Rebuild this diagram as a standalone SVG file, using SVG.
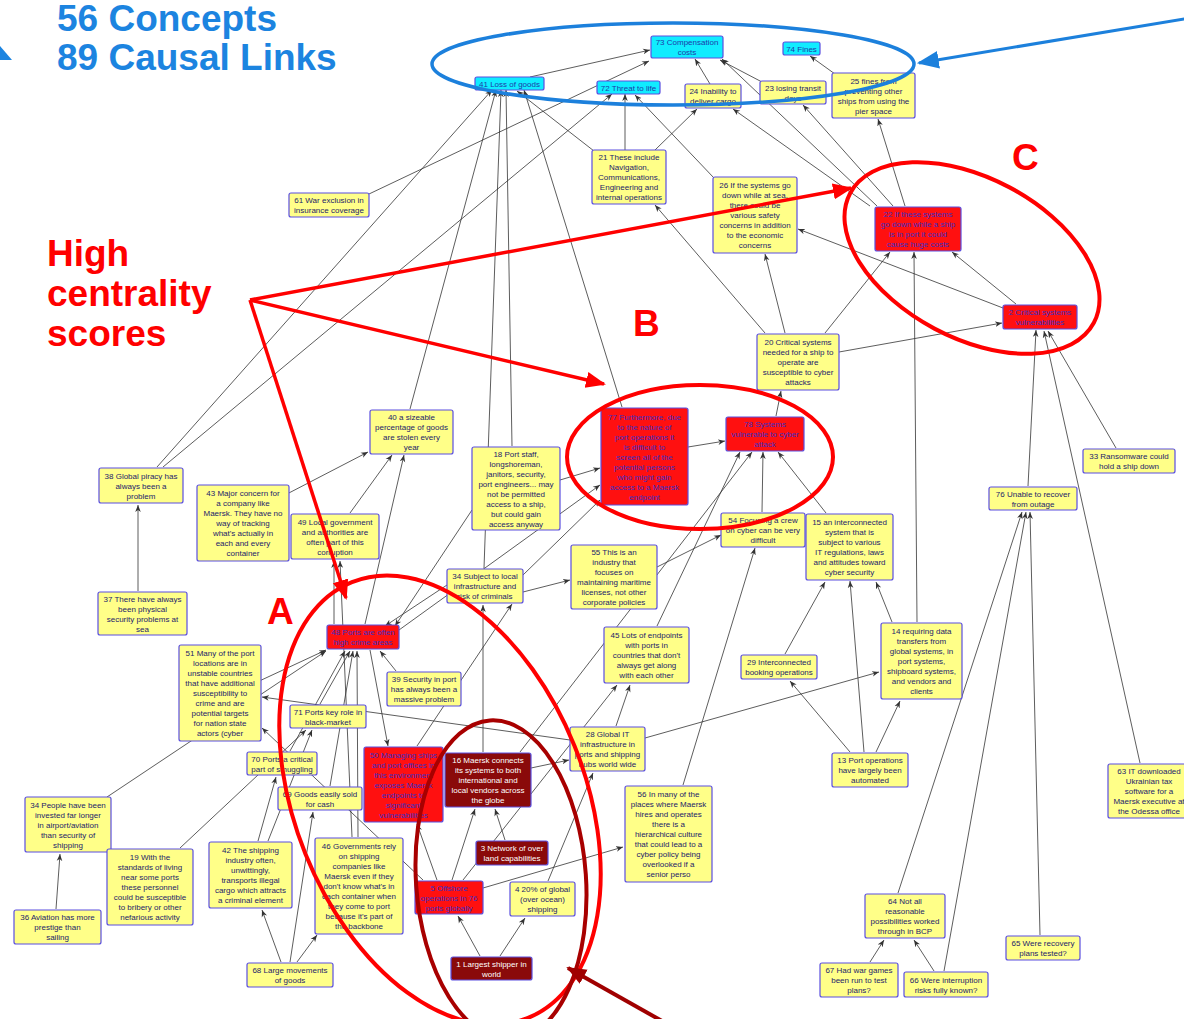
<svg xmlns="http://www.w3.org/2000/svg" width="1184" height="1019" viewBox="0 0 1184 1019">
<defs>
<marker id="ah" viewBox="0 0 10 10" refX="10" refY="5" markerWidth="7" markerHeight="7" orient="auto" markerUnits="userSpaceOnUse"><path d="M0,1 L10,5 L0,9 L3,5 z" fill="#333"/></marker>
<marker id="rah" viewBox="0 0 10 10" refX="9" refY="5" markerWidth="20" markerHeight="20" orient="auto" markerUnits="userSpaceOnUse"><path d="M0,1 L10,5 L0,9 z" fill="#ff0000"/></marker>
<marker id="dah" viewBox="0 0 10 10" refX="9" refY="5" markerWidth="20" markerHeight="20" orient="auto" markerUnits="userSpaceOnUse"><path d="M0,1 L10,5 L0,9 z" fill="#a00000"/></marker>
<marker id="bah" viewBox="0 0 10 10" refX="9" refY="5" markerWidth="22" markerHeight="22" orient="auto" markerUnits="userSpaceOnUse"><path d="M0,1 L10,5 L0,9 z" fill="#1c80dc"/></marker>
<style>
.n rect{stroke:#5a4fe0;stroke-width:1.2}
.y rect{fill:#ffff88}
.r rect{fill:#ff1010}
.d rect{fill:#8a0a0a}
.c rect{fill:#10ecff}
.n text{font-family:"Liberation Sans",Arial,sans-serif;font-size:8px;text-anchor:middle;fill:#1c1c6a}
.r text{fill:#3b2fc0}
.d text{fill:#ffffff}
.c text{fill:#1f3aa8}
#edges path{fill:none;stroke:#333;stroke-width:0.8;marker-end:url(#ah)}
.big{font-family:"Liberation Sans",Arial,sans-serif;font-weight:bold}
</style>
</defs>
<rect width="1184" height="1019" fill="#ffffff"/>
<g id="edges">
<path d="M530,77 L650,50"/>
<path d="M710,84 L695,59"/>
<path d="M762,82 L720,60"/>
<path d="M877,206 L722,59"/>
<path d="M835,74 L810,56"/>
<path d="M594,151 L517,91"/>
<path d="M625,150 L625,94"/>
<path d="M655,150 L697,109"/>
<path d="M714,178 L635,95"/>
<path d="M870,206 L733,109"/>
<path d="M893,206 L803,105"/>
<path d="M905,206 L878,119"/>
<path d="M1016,304 L952,252"/>
<path d="M1003,308 L798,229"/>
<path d="M765,333 L655,205"/>
<path d="M785,333 L765,254"/>
<path d="M825,333 L890,252"/>
<path d="M839,352 L1002,323"/>
<path d="M917,622 L914,252"/>
<path d="M776,416 L781,391"/>
<path d="M688,447 L725,441"/>
<path d="M762,512 L763,452"/>
<path d="M826,513 L778,452"/>
<path d="M657,626 L740,452"/>
<path d="M520,752 L752,452"/>
<path d="M622,407 L524,90"/>
<path d="M512,446 L506,90"/>
<path d="M484,568 L501,90"/>
<path d="M410,409 L496,90"/>
<path d="M157,467 L492,90"/>
<path d="M163,467 L612,94"/>
<path d="M369,194 L649,61"/>
<path d="M138,591 L138,505"/>
<path d="M285,495 L368,452"/>
<path d="M350,513 L392,455"/>
<path d="M365,624 L404,455"/>
<path d="M334,624 L334,561"/>
<path d="M352,837 L340,561"/>
<path d="M107,797 L326,651"/>
<path d="M255,683 L326,650"/>
<path d="M290,751 L345,651"/>
<path d="M320,704 L350,651"/>
<path d="M330,786 L353,651"/>
<path d="M358,837 L357,651"/>
<path d="M396,671 L380,651"/>
<path d="M447,585 L385,626"/>
<path d="M472,510 L395,626"/>
<path d="M370,650 L388,746"/>
<path d="M399,630 L600,485"/>
<path d="M523,575 L600,500"/>
<path d="M560,480 L600,468"/>
<path d="M570,740 L262,697"/>
<path d="M423,880 L262,728"/>
<path d="M180,848 L306,730"/>
<path d="M258,841 L276,777"/>
<path d="M268,841 L312,730"/>
<path d="M281,962 L262,910"/>
<path d="M290,962 L313,812"/>
<path d="M297,962 L317,935"/>
<path d="M437,880 L417,824"/>
<path d="M452,880 L475,809"/>
<path d="M505,840 L495,809"/>
<path d="M463,880 L617,685"/>
<path d="M480,956 L458,916"/>
<path d="M500,956 L525,918"/>
<path d="M548,881 L593,773"/>
<path d="M483,888 L623,847"/>
<path d="M531,768 L569,760"/>
<path d="M483,752 L483,605"/>
<path d="M616,726 L630,685"/>
<path d="M645,738 L879,672"/>
<path d="M850,752 L790,681"/>
<path d="M876,752 L900,701"/>
<path d="M864,752 L850,581"/>
<path d="M785,654 L825,582"/>
<path d="M892,622 L876,582"/>
<path d="M683,785 L755,548"/>
<path d="M657,567 L721,535"/>
<path d="M523,592 L570,580"/>
<path d="M417,746 L512,604"/>
<path d="M1028,486 L1036,330"/>
<path d="M1140,763 L1044,331"/>
<path d="M1116,448 L1048,331"/>
<path d="M898,893 L1022,512"/>
<path d="M944,971 L1026,512"/>
<path d="M1040,935 L1030,512"/>
<path d="M870,962 L884,940"/>
<path d="M934,971 L914,940"/>
<path d="M56,909 L60,854"/>
</g>
<g id="n73" class="n c"><rect x="651" y="36" width="72" height="22" rx="2"/><text x="687" y="45">73 Compensation<tspan x="687" dy="10">costs</tspan></text></g>
<g id="n74" class="n c"><rect x="783" y="42" width="37" height="13" rx="2"/><text x="801.5" y="51.5">74 Fines</text></g>
<g id="n41" class="n c"><rect x="475" y="77" width="69" height="13" rx="2"/><text x="509.5" y="86.5">41 Loss of goods</text></g>
<g id="n72" class="n c"><rect x="597" y="81" width="63" height="13" rx="2"/><text x="628.5" y="90.5">72 Threat to life</text></g>
<g id="n24" class="n y"><rect x="685" y="84" width="56" height="24" rx="2"/><text x="713" y="94">24 Inability to<tspan x="713" dy="10">deliver cargo</tspan></text></g>
<g id="n23" class="n y"><rect x="760" y="81" width="66" height="23" rx="2"/><text x="793" y="90.5">23 losing transit<tspan x="793" dy="10">days</tspan></text></g>
<g id="n25" class="n y"><rect x="832" y="73" width="83" height="45" rx="2"/><text x="873.5" y="83.5">25 fines from<tspan x="873.5" dy="10">preventing other</tspan><tspan x="873.5" dy="10">ships from using the</tspan><tspan x="873.5" dy="10">pier space</tspan></text></g>
<g id="n21" class="n y"><rect x="592" y="150" width="74" height="54" rx="2"/><text x="629" y="160">21 These include<tspan x="629" dy="10">Navigation,</tspan><tspan x="629" dy="10">Communications,</tspan><tspan x="629" dy="10">Engineering and</tspan><tspan x="629" dy="10">internal operations</tspan></text></g>
<g id="n26" class="n y"><rect x="713" y="177" width="84" height="76" rx="2"/><text x="755" y="188">26 If the systems go<tspan x="755" dy="10">down while at sea,</tspan><tspan x="755" dy="10">there could be</tspan><tspan x="755" dy="10">various safety</tspan><tspan x="755" dy="10">concerns in addition</tspan><tspan x="755" dy="10">to the economic</tspan><tspan x="755" dy="10">concerns</tspan></text></g>
<g id="n61" class="n y"><rect x="289" y="193" width="80" height="24" rx="2"/><text x="329" y="203">61 War exclusion in<tspan x="329" dy="10">insurance coverage</tspan></text></g>
<g id="n22" class="n r"><rect x="875" y="207" width="86" height="44" rx="2"/><text x="918" y="217">22 If these systems<tspan x="918" dy="10">go down while a ship</tspan><tspan x="918" dy="10">is in port it could</tspan><tspan x="918" dy="10">cause huge costs</tspan></text></g>
<g id="n2" class="n r"><rect x="1003" y="305" width="74" height="24" rx="2"/><text x="1040" y="315">2 Critical systems<tspan x="1040" dy="10">vulnerabilities</tspan></text></g>
<g id="n20" class="n y"><rect x="757" y="334" width="82" height="56" rx="2"/><text x="798" y="345">20 Critical systems<tspan x="798" dy="10">needed for a ship to</tspan><tspan x="798" dy="10">operate are</tspan><tspan x="798" dy="10">susceptible to cyber</tspan><tspan x="798" dy="10">attacks</tspan></text></g>
<g id="n77" class="n r"><rect x="601" y="408" width="87" height="97" rx="2"/><text x="644.5" y="419.5">77 Furthermore, due<tspan x="644.5" dy="10">to the nature of</tspan><tspan x="644.5" dy="10">port operations it</tspan><tspan x="644.5" dy="10">is difficult to</tspan><tspan x="644.5" dy="10">screen all of the</tspan><tspan x="644.5" dy="10">potential persons</tspan><tspan x="644.5" dy="10">who might gain</tspan><tspan x="644.5" dy="10">access to a Maersk</tspan><tspan x="644.5" dy="10">endpoint</tspan></text></g>
<g id="n78" class="n r"><rect x="726" y="417" width="78" height="34" rx="2"/><text x="765" y="427">78 Systems<tspan x="765" dy="10">vulnerable to cyber</tspan><tspan x="765" dy="10">attack</tspan></text></g>
<g id="n40" class="n y"><rect x="370" y="410" width="83" height="44" rx="2"/><text x="411.5" y="420">40 a sizeable<tspan x="411.5" dy="10">percentage of goods</tspan><tspan x="411.5" dy="10">are stolen every</tspan><tspan x="411.5" dy="10">year</tspan></text></g>
<g id="n18" class="n y"><rect x="472" y="447" width="88" height="83" rx="2"/><text x="516" y="456.5">18 Port staff,<tspan x="516" dy="10">longshoreman,</tspan><tspan x="516" dy="10">janitors, security,</tspan><tspan x="516" dy="10">port engineers... may</tspan><tspan x="516" dy="10">not be permitted</tspan><tspan x="516" dy="10">access to a ship,</tspan><tspan x="516" dy="10">but could gain</tspan><tspan x="516" dy="10">access anyway</tspan></text></g>
<g id="n38" class="n y"><rect x="99" y="468" width="84" height="35" rx="2"/><text x="141" y="478.5">38 Global piracy has<tspan x="141" dy="10">always been a</tspan><tspan x="141" dy="10">problem</tspan></text></g>
<g id="n43" class="n y"><rect x="197" y="485" width="92" height="76" rx="2"/><text x="243" y="496">43 Major concern for<tspan x="243" dy="10">a company like</tspan><tspan x="243" dy="10">Maersk. They have no</tspan><tspan x="243" dy="10">way of tracking</tspan><tspan x="243" dy="10">what's actually in</tspan><tspan x="243" dy="10">each and every</tspan><tspan x="243" dy="10">container</tspan></text></g>
<g id="n49" class="n y"><rect x="291" y="514" width="88" height="45" rx="2"/><text x="335" y="524.5">49 Local government<tspan x="335" dy="10">and authorities are</tspan><tspan x="335" dy="10">often part of this</tspan><tspan x="335" dy="10">corruption</tspan></text></g>
<g id="n54" class="n y"><rect x="721" y="513" width="84" height="34" rx="2"/><text x="763" y="523">54 Focusing a crew<tspan x="763" dy="10">on cyber can be very</tspan><tspan x="763" dy="10">difficult</tspan></text></g>
<g id="n15" class="n y"><rect x="806" y="514" width="87" height="66" rx="2"/><text x="849.5" y="525">15 an interconnected<tspan x="849.5" dy="10">system that is</tspan><tspan x="849.5" dy="10">subject to various</tspan><tspan x="849.5" dy="10">IT regulations, laws</tspan><tspan x="849.5" dy="10">and attitudes toward</tspan><tspan x="849.5" dy="10">cyber security</tspan></text></g>
<g id="n55" class="n y"><rect x="571" y="545" width="86" height="64" rx="2"/><text x="614" y="555">55 This is an<tspan x="614" dy="10">industry that</tspan><tspan x="614" dy="10">focuses on</tspan><tspan x="614" dy="10">maintaining maritime</tspan><tspan x="614" dy="10">licenses, not other</tspan><tspan x="614" dy="10">corporate policies</tspan></text></g>
<g id="n34s" class="n y"><rect x="447" y="569" width="76" height="34" rx="2"/><text x="485" y="579">34 Subject to local<tspan x="485" dy="10">infrastructure and</tspan><tspan x="485" dy="10">risk of criminals</tspan></text></g>
<g id="n37" class="n y"><rect x="98" y="592" width="89" height="43" rx="2"/><text x="142.5" y="601.5">37 There have always<tspan x="142.5" dy="10">been physical</tspan><tspan x="142.5" dy="10">security problems at</tspan><tspan x="142.5" dy="10">sea</tspan></text></g>
<g id="n48" class="n r"><rect x="327" y="625" width="72" height="24" rx="2"/><text x="363" y="635">48 Ports are often<tspan x="363" dy="10">high crime areas</tspan></text></g>
<g id="n39" class="n y"><rect x="387" y="672" width="74" height="34" rx="2"/><text x="424" y="682">39 Security in port<tspan x="424" dy="10">has always been a</tspan><tspan x="424" dy="10">massive problem</tspan></text></g>
<g id="n45" class="n y"><rect x="604" y="627" width="85" height="56" rx="2"/><text x="646.5" y="638">45 Lots of endpoints<tspan x="646.5" dy="10">with ports in</tspan><tspan x="646.5" dy="10">countries that don't</tspan><tspan x="646.5" dy="10">always get along</tspan><tspan x="646.5" dy="10">with each other</tspan></text></g>
<g id="n29" class="n y"><rect x="741" y="655" width="76" height="24" rx="2"/><text x="779" y="665">29 Interconnected<tspan x="779" dy="10">booking operations</tspan></text></g>
<g id="n14" class="n y"><rect x="881" y="623" width="81" height="76" rx="2"/><text x="921.5" y="634">14 requiring data<tspan x="921.5" dy="10">transfers from</tspan><tspan x="921.5" dy="10">global systems, in</tspan><tspan x="921.5" dy="10">port systems,</tspan><tspan x="921.5" dy="10">shipboard systems,</tspan><tspan x="921.5" dy="10">and vendors and</tspan><tspan x="921.5" dy="10">clients</tspan></text></g>
<g id="n51" class="n y"><rect x="179" y="645" width="82" height="96" rx="2"/><text x="220" y="656">51 Many of the port<tspan x="220" dy="10">locations are in</tspan><tspan x="220" dy="10">unstable countries</tspan><tspan x="220" dy="10">that have additional</tspan><tspan x="220" dy="10">susceptibility to</tspan><tspan x="220" dy="10">crime and are</tspan><tspan x="220" dy="10">potential targets</tspan><tspan x="220" dy="10">for nation state</tspan><tspan x="220" dy="10">actors (cyber</tspan></text></g>
<g id="n71" class="n y"><rect x="290" y="705" width="76" height="23" rx="2"/><text x="328" y="714.5">71 Ports key role in<tspan x="328" dy="10">black-market</tspan></text></g>
<g id="n28" class="n y"><rect x="570" y="727" width="75" height="44" rx="2"/><text x="607.5" y="737">28 Global IT<tspan x="607.5" dy="10">infrastructure in</tspan><tspan x="607.5" dy="10">ports and shipping</tspan><tspan x="607.5" dy="10">hubs world wide</tspan></text></g>
<g id="n70" class="n y"><rect x="247" y="752" width="70" height="23" rx="2"/><text x="282" y="761.5">70 Ports a critical<tspan x="282" dy="10">part of smuggling</tspan></text></g>
<g id="n50" class="n r"><rect x="364" y="747" width="79" height="75" rx="2"/><text x="403.5" y="757.5">50 Managing ships<tspan x="403.5" dy="10">and port offices in</tspan><tspan x="403.5" dy="10">this environment</tspan><tspan x="403.5" dy="10">exposes Maersk</tspan><tspan x="403.5" dy="10">endpoints to</tspan><tspan x="403.5" dy="10">significant</tspan><tspan x="403.5" dy="10">vulnerabilities</tspan></text></g>
<g id="n16" class="n d"><rect x="445" y="753" width="86" height="54" rx="2"/><text x="488" y="763">16 Maersk connects<tspan x="488" dy="10">its systems to both</tspan><tspan x="488" dy="10">international and</tspan><tspan x="488" dy="10">local vendors across</tspan><tspan x="488" dy="10">the globe</tspan></text></g>
<g id="n69" class="n y"><rect x="278" y="787" width="84" height="23" rx="2"/><text x="320" y="796.5">69 Goods easily sold<tspan x="320" dy="10">for cash</tspan></text></g>
<g id="n13" class="n y"><rect x="832" y="753" width="76" height="34" rx="2"/><text x="870" y="763">13 Port operations<tspan x="870" dy="10">have largely been</tspan><tspan x="870" dy="10">automated</tspan></text></g>
<g id="n63" class="n y"><rect x="1108" y="764" width="82" height="54" rx="2"/><text x="1149" y="774">63 IT downloaded<tspan x="1149" dy="10">Ukrainian tax</tspan><tspan x="1149" dy="10">software for a</tspan><tspan x="1149" dy="10">Maersk executive at</tspan><tspan x="1149" dy="10">the Odessa office</tspan></text></g>
<g id="n34p" class="n y"><rect x="25" y="797" width="86" height="55" rx="2"/><text x="68" y="807.5">34 People have been<tspan x="68" dy="10">invested far longer</tspan><tspan x="68" dy="10">in airport/aviation</tspan><tspan x="68" dy="10">than security of</tspan><tspan x="68" dy="10">shipping</tspan></text></g>
<g id="n56" class="n y"><rect x="625" y="786" width="87" height="96" rx="2"/><text x="668.5" y="797">56 In many of the<tspan x="668.5" dy="10">places where Maersk</tspan><tspan x="668.5" dy="10">hires and operates</tspan><tspan x="668.5" dy="10">there is a</tspan><tspan x="668.5" dy="10">hierarchical culture</tspan><tspan x="668.5" dy="10">that could lead to a</tspan><tspan x="668.5" dy="10">cyber policy being</tspan><tspan x="668.5" dy="10">overlooked if a</tspan><tspan x="668.5" dy="10">senior perso</tspan></text></g>
<g id="n3" class="n d"><rect x="476" y="841" width="72" height="24" rx="2"/><text x="512" y="851">3 Network of over<tspan x="512" dy="10">land capabilities</tspan></text></g>
<g id="n19" class="n y"><rect x="107" y="849" width="86" height="76" rx="2"/><text x="150" y="860">19 With the<tspan x="150" dy="10">standards of living</tspan><tspan x="150" dy="10">near some ports</tspan><tspan x="150" dy="10">these personnel</tspan><tspan x="150" dy="10">could be susceptible</tspan><tspan x="150" dy="10">to bribery or other</tspan><tspan x="150" dy="10">nefarious activity</tspan></text></g>
<g id="n42" class="n y"><rect x="209" y="842" width="83" height="66" rx="2"/><text x="250.5" y="853">42 The shipping<tspan x="250.5" dy="10">industry often,</tspan><tspan x="250.5" dy="10">unwittingly,</tspan><tspan x="250.5" dy="10">transports illegal</tspan><tspan x="250.5" dy="10">cargo which attracts</tspan><tspan x="250.5" dy="10">a criminal element</tspan></text></g>
<g id="n46" class="n y"><rect x="315" y="838" width="88" height="96" rx="2"/><text x="359" y="849">46 Governments rely<tspan x="359" dy="10">on shipping</tspan><tspan x="359" dy="10">companies like</tspan><tspan x="359" dy="10">Maersk even if they</tspan><tspan x="359" dy="10">don't know what's in</tspan><tspan x="359" dy="10">each container when</tspan><tspan x="359" dy="10">they come to port</tspan><tspan x="359" dy="10">because it's part of</tspan><tspan x="359" dy="10">the backbone</tspan></text></g>
<g id="n5" class="n r"><rect x="415" y="881" width="68" height="33" rx="2"/><text x="449" y="890.5">5 Offshore<tspan x="449" dy="10">operations in 76</tspan><tspan x="449" dy="10">ports globally</tspan></text></g>
<g id="n4" class="n y"><rect x="510" y="882" width="65" height="34" rx="2"/><text x="542.5" y="892">4 20% of global<tspan x="542.5" dy="10">(over ocean)</tspan><tspan x="542.5" dy="10">shipping</tspan></text></g>
<g id="n64" class="n y"><rect x="865" y="894" width="80" height="44" rx="2"/><text x="905" y="904">64 Not all<tspan x="905" dy="10">reasonable</tspan><tspan x="905" dy="10">possibilities worked</tspan><tspan x="905" dy="10">through in BCP</tspan></text></g>
<g id="n65" class="n y"><rect x="1006" y="936" width="74" height="24" rx="2"/><text x="1043" y="946">65 Were recovery<tspan x="1043" dy="10">plans tested?</tspan></text></g>
<g id="n36" class="n y"><rect x="14" y="910" width="87" height="34" rx="2"/><text x="57.5" y="920">36 Aviation has more<tspan x="57.5" dy="10">prestige than</tspan><tspan x="57.5" dy="10">sailing</tspan></text></g>
<g id="n1" class="n d"><rect x="451" y="957" width="81" height="23" rx="2"/><text x="491.5" y="966.5">1 Largest shipper in<tspan x="491.5" dy="10">world</tspan></text></g>
<g id="n68" class="n y"><rect x="247" y="963" width="86" height="24" rx="2"/><text x="290" y="973">68 Large movements<tspan x="290" dy="10">of goods</tspan></text></g>
<g id="n67" class="n y"><rect x="820" y="963" width="78" height="34" rx="2"/><text x="859" y="973">67 Had war games<tspan x="859" dy="10">been run to test</tspan><tspan x="859" dy="10">plans?</tspan></text></g>
<g id="n66" class="n y"><rect x="904" y="972" width="84" height="25" rx="2"/><text x="946" y="982.5">66 Were interruption<tspan x="946" dy="10">risks fully known?</tspan></text></g>
<g id="n76" class="n y"><rect x="989" y="487" width="88" height="23" rx="2"/><text x="1033" y="496.5">76 Unable to recover<tspan x="1033" dy="10">from outage</tspan></text></g>
<g id="n33" class="n y"><rect x="1083" y="449" width="92" height="24" rx="2"/><text x="1129" y="459">33 Ransomware could<tspan x="1129" dy="10">hold a ship down</tspan></text></g>
<g id="annotations">
<text class="big" x="57" y="31" font-size="37" fill="#1c84e0">56 Concepts</text>
<text class="big" x="57" y="70" font-size="37" fill="#1c84e0">89 Causal Links</text>
<polygon points="0,46 12,60 0,60" fill="#1c84e0"/>
<ellipse cx="673" cy="64" rx="241" ry="41" fill="none" stroke="#1c80dc" stroke-width="3.5"/>
<line x1="1190" y1="18" x2="919" y2="63" stroke="#1c80dc" stroke-width="3" marker-end="url(#bah)"/>
<text class="big" x="47" y="266" font-size="37" fill="#ff0000">High</text>
<text class="big" x="47" y="306" font-size="37" fill="#ff0000">centrality</text>
<text class="big" x="47" y="346" font-size="37" fill="#ff0000">scores</text>
<text class="big" x="1012" y="170" font-size="37" fill="#ff0000">C</text>
<text class="big" x="633" y="336" font-size="37" fill="#ff0000">B</text>
<text class="big" x="267" y="624" font-size="37" fill="#ff0000">A</text>
<line x1="250" y1="300" x2="851" y2="188" stroke="#ff0000" stroke-width="3.5" marker-end="url(#rah)"/>
<line x1="250" y1="300" x2="604" y2="384" stroke="#ff0000" stroke-width="3.5" marker-end="url(#rah)"/>
<line x1="250" y1="300" x2="346" y2="598" stroke="#ff0000" stroke-width="3.5" marker-end="url(#rah)"/>
<ellipse cx="700" cy="457" rx="133" ry="72" fill="none" stroke="#ff0000" stroke-width="4"/>
<ellipse cx="972" cy="258" rx="138" ry="80" transform="rotate(28 972 258)" fill="none" stroke="#ff0000" stroke-width="4"/>
<ellipse cx="440" cy="800" rx="145" ry="235" transform="rotate(-22 440 800)" fill="none" stroke="#ff0000" stroke-width="4"/>
<ellipse cx="501" cy="880" rx="85" ry="160" transform="rotate(-4 501 880)" fill="none" stroke="#a80000" stroke-width="4"/>
<line x1="662" y1="1021" x2="568" y2="968" stroke="#a00000" stroke-width="4" marker-end="url(#dah)"/>
</g>
</svg>
